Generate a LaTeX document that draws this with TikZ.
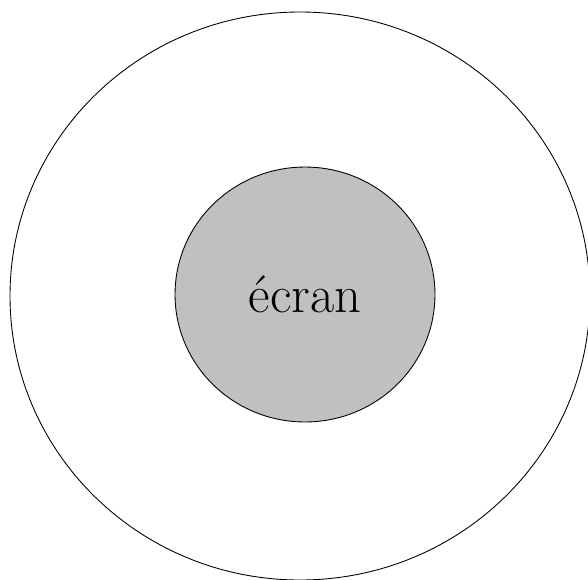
\documentclass[tikz,border=0pt]{standalone}
\usepackage{tikz}
\usetikzlibrary{shapes.geometric}
\definecolor{ecrangray}{RGB}{192, 192, 192}

\begin{document}
\begin{tikzpicture}[x=0.02cm, y=-0.02cm]

  % --- frame of the picture ---
  \useasboundingbox (0,0) rectangle (588,579);

  % --- outer zone ---
  \draw[black, line width=0.5pt] (300,296) ellipse [x radius=290, y radius=284];

  % --- screen in the middle ---
  \node[ellipse, draw=black, line width=0.5pt, fill=ecrangray,
        minimum width=5.2cm, minimum height=5.1cm, inner sep=0pt,
        font=\fontsize{30}{34}\selectfont] (ecran) at (305,294.5) {écran};

\end{tikzpicture}
\end{document}
